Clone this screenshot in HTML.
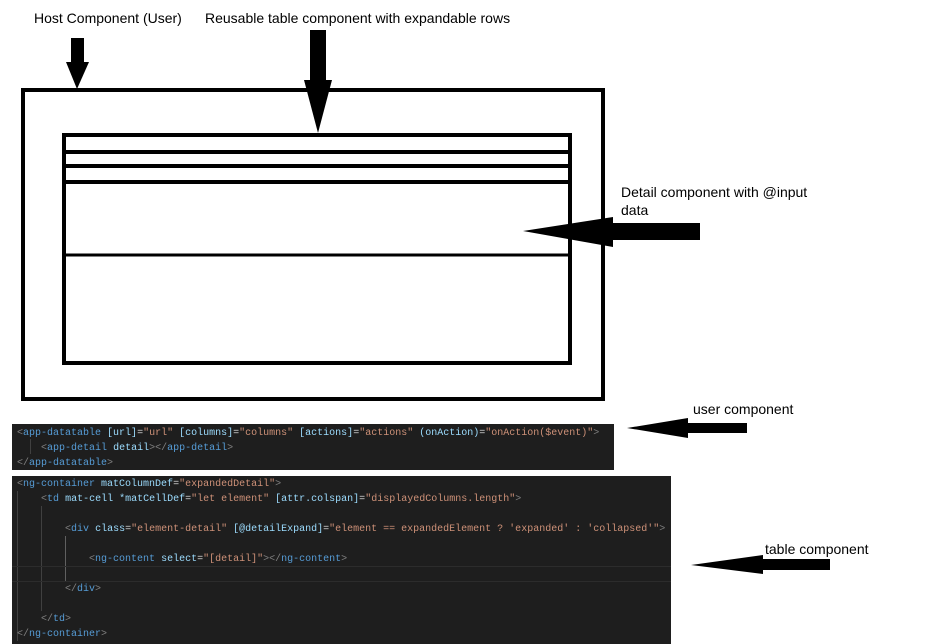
<!DOCTYPE html>
<html><head><meta charset="utf-8"><style>
body{margin:0;width:938px;height:644px;background:#fff;position:relative;overflow:hidden;font-family:"Liberation Sans",sans-serif;}
.lbl{position:absolute;font-size:14px;color:#000;line-height:18px;}
.code{position:absolute;background:#1e1e1e;font-family:"Liberation Mono",monospace;font-size:10px;color:#d4d4d4;white-space:pre;}
.code div{position:absolute;left:5px;height:15px;line-height:15px;}
.p{color:#808080}.t{color:#569cd6}.a{color:#9cdcfe}.s{color:#ce9178}
.g{position:absolute;width:1px;background:#404040;}
</style></head><body>
<div class="lbl" style="left:34px;top:9px">Host Component (User)</div>
<div class="lbl" style="left:205px;top:9px">Reusable table component with expandable rows</div>
<div class="lbl" style="left:621px;top:183px">Detail component with @input<br>data</div>
<div class="lbl" style="left:693px;top:400px">user component</div>
<div class="lbl" style="left:765px;top:540px">table component</div>
<svg width="938" height="644" style="position:absolute;left:0;top:0">
<rect x="23" y="90" width="580" height="309" fill="none" stroke="#000" stroke-width="4"/>
<rect x="64" y="135" width="506" height="228" fill="none" stroke="#000" stroke-width="4"/>
<line x1="64" y1="152" x2="570" y2="152" stroke="#000" stroke-width="4"/>
<line x1="64" y1="166" x2="570" y2="166" stroke="#000" stroke-width="4"/>
<line x1="64" y1="182" x2="570" y2="182" stroke="#000" stroke-width="4"/>
<line x1="64" y1="255" x2="570" y2="255" stroke="#000" stroke-width="3"/>
<rect x="71" y="38" width="13" height="24" fill="#000"/>
<polygon points="66,62 89,62 77,89" fill="#000"/>
<rect x="310" y="30" width="16" height="52" fill="#000"/>
<polygon points="304,80 332,80 318,133" fill="#000"/>
<polygon points="523,231 613,217 613,247" fill="#000"/>
<rect x="610" y="223" width="90" height="17" fill="#000"/>
<polygon points="627,428 688,418 688,438" fill="#000"/>
<rect x="685" y="423" width="62" height="10" fill="#000"/>
<polygon points="691,565 763,555 763,574" fill="#000"/>
<rect x="760" y="559" width="70" height="11" fill="#000"/>
</svg>
<div class="code" style="left:12px;top:424px;width:602px;height:46px">
<span class="g" style="left:18px;top:15px;height:15px"></span>
<div style="top:2px"><span class="p">&lt;</span><span class="t">app-datatable</span> <span class="a">[url]</span>=<span class="s">"url"</span> <span class="a">[columns]</span>=<span class="s">"columns"</span> <span class="a">[actions]</span>=<span class="s">"actions"</span> <span class="a">(onAction)</span>=<span class="s">"onAction($event)"</span><span class="p">&gt;</span></div>
<div style="top:17px">    <span class="p">&lt;</span><span class="t">app-detail</span> <span class="a">detail</span><span class="p">&gt;&lt;/</span><span class="t">app-detail</span><span class="p">&gt;</span></div>
<div style="top:32px"><span class="p">&lt;/</span><span class="t">app-datatable</span><span class="p">&gt;</span></div>
</div>
<div class="code" style="left:12px;top:476px;width:659px;height:168px">
<span class="g" style="left:5px;top:15px;height:150px"></span>
<span class="g" style="left:29px;top:30px;height:105px"></span>
<span class="g" style="left:53px;top:60px;height:45px;background:#606060"></span>
<div style="left:0;top:90px;width:659px;height:14px;border-top:1px solid #2c2c2c;border-bottom:1px solid #2c2c2c"></div>
<div style="top:1px"><span class="p">&lt;</span><span class="t">ng-container</span> <span class="a">matColumnDef</span>=<span class="s">"expandedDetail"</span><span class="p">&gt;</span></div>
<div style="top:16px">    <span class="p">&lt;</span><span class="t">td</span> <span class="a">mat-cell</span> <span class="a">*matCellDef</span>=<span class="s">"let element"</span> <span class="a">[attr.colspan]</span>=<span class="s">"displayedColumns.length"</span><span class="p">&gt;</span></div>
<div style="top:46px">        <span class="p">&lt;</span><span class="t">div</span> <span class="a">class</span>=<span class="s">"element-detail"</span> <span class="a">[@detailExpand]</span>=<span class="s">"element == expandedElement ? 'expanded' : 'collapsed'"</span><span class="p">&gt;</span></div>
<div style="top:76px">            <span class="p">&lt;</span><span class="t">ng-content</span> <span class="a">select</span>=<span class="s">"[detail]"</span><span class="p">&gt;&lt;/</span><span class="t">ng-content</span><span class="p">&gt;</span></div>
<div style="top:106px">        <span class="p">&lt;/</span><span class="t">div</span><span class="p">&gt;</span></div>
<div style="top:136px">    <span class="p">&lt;/</span><span class="t">td</span><span class="p">&gt;</span></div>
<div style="top:151px"><span class="p">&lt;/</span><span class="t">ng-container</span><span class="p">&gt;</span></div>
</div>
</body></html>
